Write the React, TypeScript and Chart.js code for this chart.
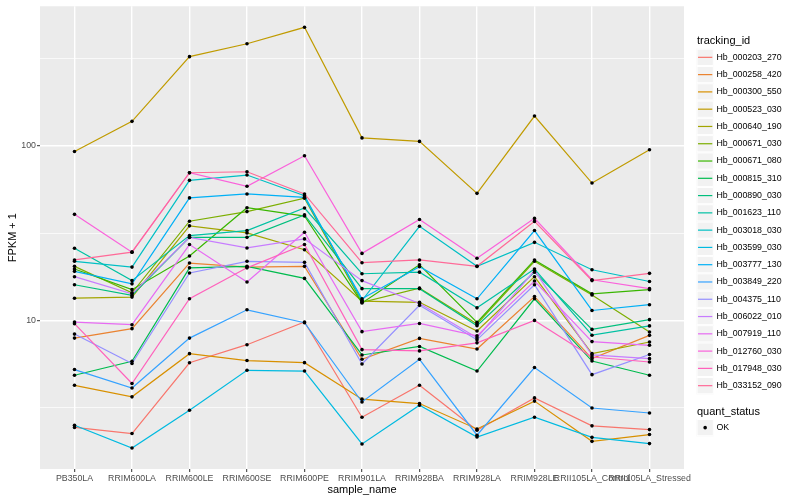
import React, { useEffect, useRef } from "react";
import { Chart, registerables } from "chart.js";

Chart.register(...registerables);

const samples = [
  "PB350LA", "RRIM600LA", "RRIM600LE", "RRIM600SE", "RRIM600PE", "RRIM901LA",
  "RRIM928BA", "RRIM928LA", "RRIM928LE", "RRII105LA_Control", "RRII105LA_Stressed",
];

const trackingIds = [
  "Hb_000203_270", "Hb_000258_420", "Hb_000300_550", "Hb_000523_030", "Hb_000640_190",
  "Hb_000671_030", "Hb_000671_080", "Hb_000815_310", "Hb_000890_030", "Hb_001623_110",
  "Hb_003018_030", "Hb_003599_030", "Hb_003777_130", "Hb_003849_220", "Hb_004375_110",
  "Hb_006022_010", "Hb_007919_110", "Hb_012760_030", "Hb_017948_030", "Hb_033152_090",
];

// FPKM + 1 per sample, in the order of `samples`
const hb_000203_270 = [2.44, 2.25, 5.72, 7.26, 9.8, 2.79, 4.25, 2.35, 3.6, 2.49, 2.37];
const hb_000258_420 = [7.92, 8.97, 21.3, 20.2, 20.4, 5.99, 7.89, 6.86, 13.7, 6.04, 8.21];
const hb_000300_550 = [4.25, 3.65, 6.45, 5.89, 5.73, 3.54, 3.34, 2.39, 3.45, 2.03, 2.22];
const hb_000523_030 = [92.8, 138, 324, 384, 477, 111, 106, 53.4, 148, 61.2, 94.9];
const hb_000640_190 = [13.4, 13.6, 34.8, 31.7, 25.4, 12.9, 12.7, 8.69, 17.8, 6.45, 7.52];
const hb_000671_030 = [20.4, 14.4, 37.0, 42.0, 50.1, 12.7, 15.3, 9.55, 21.8, 14.0, 8.58];
const hb_000671_080 = [19.7, 15.0, 23.4, 44.2, 39.6, 12.6, 20.8, 9.74, 22.2, 14.2, 15.0];
const hb_000815_310 = [4.85, 5.83, 20.0, 20.4, 17.4, 6.34, 7.09, 5.13, 13.3, 5.85, 4.85];
const hb_000890_030 = [16.0, 13.9, 29.9, 29.9, 40.2, 15.2, 15.2, 9.33, 18.9, 8.88, 10.1];
const hb_001623_110 = [25.9, 16.9, 30.6, 32.7, 44.0, 18.5, 18.9, 11.8, 19.7, 8.23, 9.3];
const hb_003018_030 = [21.8, 20.2, 63.4, 68.0, 51.8, 13.0, 34.6, 20.4, 28.0, 19.5, 16.7];
const hb_003599_030 = [2.51, 1.86, 3.06, 5.18, 5.13, 1.96, 3.27, 2.15, 2.79, 2.14, 1.97];
const hb_003777_130 = [19.1, 16.2, 50.3, 53.0, 50.7, 13.3, 20.3, 13.3, 32.7, 11.4, 12.3];
const hb_003849_220 = [5.23, 4.1, 7.92, 11.5, 9.7, 3.41, 5.99, 2.2, 5.37, 3.15, 2.95];
const hb_004375_110 = [8.35, 5.66, 18.7, 21.8, 21.5, 5.63, 12.2, 7.74, 16.0, 4.89, 6.38];
const hb_006022_010 = [17.8, 14.2, 29.9, 26.0, 29.3, 16.9, 12.5, 7.96, 19.3, 6.34, 6.04];
const hb_007919_110 = [9.78, 9.45, 27.2, 16.6, 32.0, 8.62, 9.61, 8.16, 16.8, 7.56, 7.2];
const hb_012760_030 = [40.5, 24.6, 70.1, 58.6, 87.7, 24.2, 37.8, 22.7, 38.4, 17.1, 15.2];
const hb_017948_030 = [9.58, 4.35, 13.3, 20.0, 27.2, 6.8, 6.69, 7.44, 10.0, 6.17, 5.78];
const hb_033152_090 = [22.2, 24.6, 70.1, 71.0, 53.0, 21.4, 22.2, 20.4, 36.9, 16.9, 18.6];

const seriesValues = [
  hb_000203_270, hb_000258_420, hb_000300_550, hb_000523_030, hb_000640_190,
  hb_000671_030, hb_000671_080, hb_000815_310, hb_000890_030, hb_001623_110,
  hb_003018_030, hb_003599_030, hb_003777_130, hb_003849_220, hb_004375_110,
  hb_006022_010, hb_007919_110, hb_012760_030, hb_017948_030, hb_033152_090,
];

const quantStatus = ["OK"];
const yMajorTicks = [10, 100];
const yMinorTicks = [Math.pow(10, 0.5), Math.pow(10, 1.5), Math.pow(10, 2.5)];

const FONT = '"Liberation Sans", Arial, sans-serif';

// ggplot2 hue palette: hcl(h, c = 100, l = 65)
function hcl(h: number, c: number, l: number): string {
  const hr = (h * Math.PI) / 180;
  const U = c * Math.cos(hr);
  const V = c * Math.sin(hr);
  const Xn = 95.047, Yn = 100.0, Zn = 108.883;
  const den = Xn + 15 * Yn + 3 * Zn;
  const un = (4 * Xn) / den;
  const vn = (9 * Yn) / den;
  const Y = l > 8 ? Yn * Math.pow((l + 16) / 116, 3) : (Yn * l) / 903.296;
  const u = U / (13 * l) + un;
  const v = V / (13 * l) + vn;
  const X = (9 * Y * u) / (4 * v);
  const Z = -X / 3 - 5 * Y + (3 * Y) / v;
  const x = X / 100, y = Y / 100, z = Z / 100;
  const lin = [
    3.240479 * x - 1.53715 * y - 0.498535 * z,
    -0.969256 * x + 1.875992 * y + 0.041556 * z,
    0.055648 * x - 0.204043 * y + 1.057311 * z,
  ];
  const toHex = (t: number) => {
    let s = t > 0.0031308 ? 1.055 * Math.pow(t, 1 / 2.4) - 0.055 : 12.92 * t;
    s = Math.min(1, Math.max(0, s));
    return Math.round(s * 255).toString(16).padStart(2, "0");
  };
  return "#" + lin.map(toHex).join("");
}

const colors = trackingIds.map((_, i) => hcl(15 + (360 / trackingIds.length) * i, 100, 65));

const allVals = seriesValues.flat();
const lmin = Math.log10(Math.min(...allVals));
const lmax = Math.log10(Math.max(...allVals));
const lrange = lmax - lmin;
const yMin = Math.pow(10, lmin - 0.05 * lrange);
const yMax = Math.pow(10, lmax + 0.05 * lrange);

const panelBg = {
  id: "panelBg",
  beforeDraw(chart: any) {
    const { ctx, chartArea } = chart;
    ctx.save();
    ctx.fillStyle = "#EBEBEB";
    ctx.fillRect(chartArea.left, chartArea.top, chartArea.right - chartArea.left, chartArea.bottom - chartArea.top);
    ctx.restore();
  },
};

const ggLegend = {
  id: "ggLegend",
  afterDraw(chart: any) {
    const ctx = chart.ctx;
    const x0 = 696.5;
    const kw = 17.3;
    const kh = 17.28;
    ctx.save();
    ctx.textBaseline = "middle";
    ctx.textAlign = "left";
    ctx.fillStyle = "#000000";
    ctx.font = `11px ${FONT}`;
    ctx.fillText("tracking_id", 697, 40.5);
    let y = 48.7;
    trackingIds.forEach((id, i) => {
      ctx.fillStyle = "#F2F2F2";
      ctx.fillRect(x0, y, kw, kh);
      ctx.strokeStyle = "#FFFFFF";
      ctx.lineWidth = 1;
      ctx.strokeRect(x0 + 0.5, y + 0.5, kw - 1, kh - 1);
      ctx.strokeStyle = colors[i];
      ctx.lineWidth = 1.2;
      ctx.beginPath();
      ctx.moveTo(x0 + 1.5, y + kh / 2);
      ctx.lineTo(x0 + kw - 1.5, y + kh / 2);
      ctx.stroke();
      ctx.fillStyle = "#000000";
      ctx.font = `8.8px ${FONT}`;
      ctx.fillText(id, 716.5, y + kh / 2);
      y += kh;
    });
    ctx.font = `11px ${FONT}`;
    ctx.fillStyle = "#000000";
    ctx.fillText("quant_status", 697, 412);
    let y2 = 419;
    quantStatus.forEach((q) => {
      ctx.fillStyle = "#F2F2F2";
      ctx.fillRect(x0, y2, kw, kh);
      ctx.strokeStyle = "#FFFFFF";
      ctx.lineWidth = 1;
      ctx.strokeRect(x0 + 0.5, y2 + 0.5, kw - 1, kh - 1);
      ctx.fillStyle = "#000000";
      ctx.beginPath();
      ctx.arc(x0 + kw / 2, y2 + kh / 2, 1.8, 0, Math.PI * 2);
      ctx.fill();
      ctx.font = `8.8px ${FONT}`;
      ctx.fillText(q, 716.5, y2 + kh / 2);
      y2 += kh;
    });
    ctx.restore();
  },
};

export default function App() {
  const ref = useRef<HTMLCanvasElement | null>(null);

  useEffect(() => {
    if (!ref.current) return;
    const lineSets = seriesValues.map((vals, i) => ({
      label: trackingIds[i],
      data: vals.map((v, j) => ({ x: j, y: v })),
      borderColor: colors[i],
      backgroundColor: colors[i],
      borderWidth: 1.2,
      pointRadius: 0,
      tension: 0,
      fill: false,
      order: 1000 - i,
    }));
    const pointSets = seriesValues.map((vals, i) => ({
      label: trackingIds[i] + " points",
      data: vals.map((v, j) => ({ x: j, y: v })),
      showLine: false,
      pointRadius: 1.8,
      pointBorderWidth: 0,
      pointBackgroundColor: "#000000",
      pointBorderColor: "#000000",
      order: -1,
    }));

    const chart = new Chart(ref.current, {
      type: "line",
      data: { datasets: [...lineSets, ...pointSets] as any },
      plugins: [panelBg, ggLegend],
      options: {
        animation: false,
        responsive: false,
        maintainAspectRatio: false,
        layout: { padding: { left: 0, top: 5.5, right: 116, bottom: 0 } },
        plugins: { legend: { display: false }, tooltip: { enabled: false } },
        scales: {
          x: {
            type: "linear",
            min: -0.6,
            max: samples.length - 1 + 0.6,
            afterBuildTicks: (scale: any) => {
              scale.ticks = samples.map((_, i) => ({ value: i }));
            },
            afterFit: (scale: any) => {
              scale.height = 31;
            },
            ticks: {
              autoSkip: false,
              maxRotation: 0,
              minRotation: 0,
              padding: 1.5,
              color: "#4D4D4D",
              font: { family: FONT, size: 8.8 },
              callback: (v: any) => samples[v as number] ?? "",
            },
            grid: {
              color: "#FFFFFF",
              lineWidth: 1.4,
              tickColor: "#333333",
              tickLength: 3,
              tickWidth: 1,
            },
            border: { display: false },
            title: {
              display: true,
              text: "sample_name",
              color: "#000000",
              font: { family: FONT, size: 11 },
              padding: { top: 0, bottom: 3 },
            },
          },
          y: {
            type: "logarithmic",
            min: yMin,
            max: yMax,
            afterBuildTicks: (scale: any) => {
              scale.ticks = [...yMinorTicks, ...yMajorTicks]
                .sort((a, b) => a - b)
                .map((v) => ({ value: v, major: yMajorTicks.includes(v) }));
            },
            afterFit: (scale: any) => {
              scale.width = 40;
            },
            ticks: {
              autoSkip: false,
              padding: 1,
              color: "#4D4D4D",
              font: { family: FONT, size: 8.8 },
              callback: (v: any) => (yMajorTicks.includes(v as number) ? String(v) : ""),
            },
            grid: {
              color: "#FFFFFF",
              lineWidth: (c: any) => (yMajorTicks.includes(c.tick?.value) ? 1.4 : 0.7),
              tickColor: (c: any) => (yMajorTicks.includes(c.tick?.value) ? "#333333" : "rgba(0,0,0,0)"),
              tickLength: 3,
              tickWidth: 1,
            },
            border: { display: false },
            title: {
              display: true,
              text: "FPKM + 1",
              color: "#000000",
              font: { family: FONT, size: 11 },
              padding: { top: 6, bottom: 0 },
            },
          },
        },
      } as any,
    });
    return () => chart.destroy();
  }, []);

  return (
    <div style={{ position: "absolute", left: 0, top: 0, width: 800, height: 500, background: "#FFFFFF" }}>
      <canvas ref={ref} width={800} height={500} style={{ display: "block", width: 800, height: 500 }} />
    </div>
  );
}
